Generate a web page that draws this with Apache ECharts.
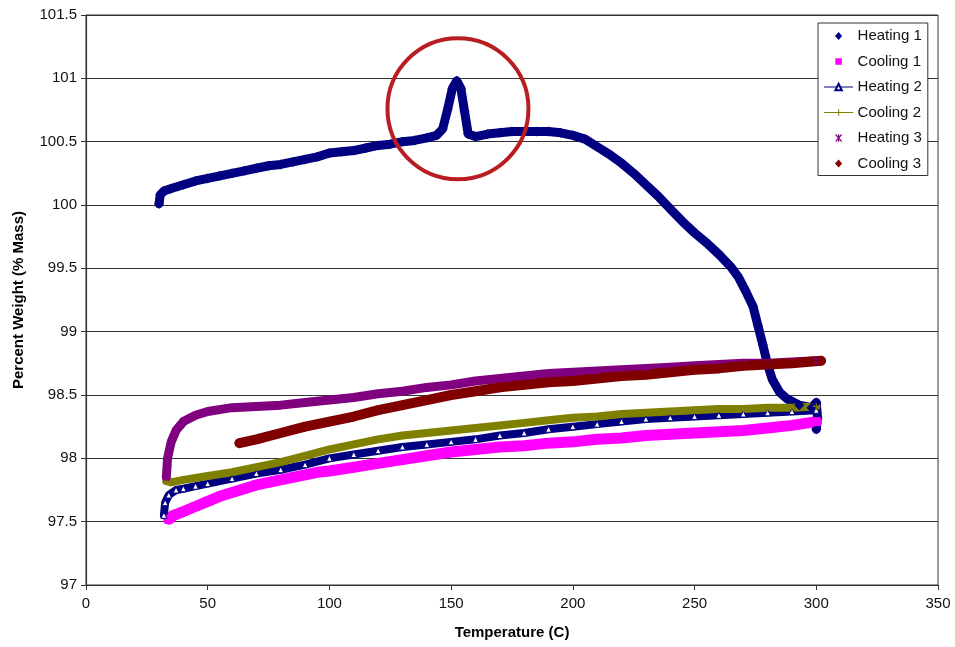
<!DOCTYPE html>
<html>
<head>
<meta charset="utf-8">
<script src="https://cdn.jsdelivr.net/npm/echarts@6/dist/echarts.min.js"></script>
<style>
html,body{margin:0;padding:0;background:#fff;}
#chart{width:955px;height:647px;}
</style>
</head>
<body>
<div id="chart"></div>
<script>
// ---- Data (temperature C, percent weight) ----
const xTicks = [0, 50, 100, 150, 200, 250, 300, 350];
const yTicks = [97, 97.5, 98, 98.5, 99, 99.5, 100, 100.5, 101, 101.5];

const heating1 = [
  [30,100.01],[30.5,100.08],[32,100.11],[35,100.13],[40,100.16],[45,100.19],[50,100.21],
  [55,100.23],[60,100.25],[65,100.27],[70,100.29],[75,100.31],[80,100.32],[85,100.34],
  [90,100.36],[95,100.38],[100,100.41],[105,100.42],[110,100.43],[115,100.45],[120,100.47],
  [125,100.48],[130,100.50],[135,100.51],[140,100.53],[144,100.55],[146.5,100.60],
  [148.5,100.75],[150.5,100.92],[152.3,100.98],[154,100.92],[155.5,100.74],[157,100.56],
  [160,100.54],[165,100.56],[170,100.57],[175,100.58],[180,100.58],[185,100.58],
  [190,100.58],[195,100.57],[200,100.55],[205,100.52],[210,100.46],[215,100.40],
  [220,100.33],[225,100.25],[230,100.16],[235,100.07],[240,99.97],[245,99.87],
  [250,99.78],[255,99.70],[260,99.61],[265,99.51],[268,99.43],[271,99.32],[274,99.20],
  [276,99.05],[278,98.90],[280,98.74],[282,98.62],[285,98.52],[288,98.47],[293,98.42],
  [298,98.40],[300,98.44],[300.5,98.32],[300,98.23]
];

const cooling1 = [
  [34,97.52],[36,97.55],[40,97.58],[45,97.62],[50,97.66],[55,97.70],[60,97.73],[65,97.76],
  [70,97.79],[75,97.81],[80,97.83],[85,97.85],[90,97.87],[95,97.89],[100,97.90],
  [110,97.93],[120,97.96],[130,97.99],[140,98.02],[150,98.05],[160,98.07],[170,98.09],
  [180,98.10],[190,98.12],[200,98.13],[210,98.15],[220,98.16],[230,98.18],[240,98.19],
  [250,98.20],[260,98.21],[270,98.22],[280,98.24],[290,98.26],[300,98.29]
];

const heating2 = [
  [32,97.55],[32.5,97.65],[34,97.71],[37,97.75],[40,97.76],[45,97.78],[50,97.80],
  [60,97.84],[70,97.88],[80,97.91],[90,97.95],[100,98.00],[110,98.03],[120,98.06],
  [130,98.09],[140,98.11],[150,98.13],[160,98.15],[170,98.18],[180,98.20],[190,98.23],
  [200,98.25],[210,98.27],[220,98.29],[230,98.31],[240,98.32],[250,98.33],[260,98.34],
  [270,98.35],[280,98.36],[290,98.37],[300,98.38]
];

const cooling2 = [
  [33,97.82],[35,97.81],[40,97.83],[50,97.86],[60,97.89],[70,97.93],[80,97.97],
  [90,98.02],[100,98.07],[110,98.11],[120,98.15],[130,98.18],[140,98.20],[150,98.22],
  [160,98.24],[170,98.26],[180,98.28],[190,98.30],[200,98.32],[210,98.33],[220,98.35],
  [230,98.36],[240,98.37],[250,98.38],[260,98.39],[270,98.39],[280,98.40],[290,98.40],
  [300,98.41]
];

const heating3 = [
  [33,97.85],[33.5,98.00],[35,98.13],[37,98.22],[40,98.29],[45,98.34],[50,98.37],
  [60,98.40],[70,98.41],[80,98.42],[90,98.44],[100,98.46],[110,98.48],[120,98.51],
  [130,98.53],[140,98.56],[150,98.58],[160,98.61],[170,98.63],[180,98.65],[190,98.67],
  [200,98.68],[210,98.69],[220,98.70],[230,98.71],[240,98.72],[250,98.73],[260,98.74],
  [270,98.75],[280,98.75],[290,98.76],[300,98.77]
];

const cooling3 = [
  [63,98.12],[70,98.15],[80,98.20],[90,98.25],[100,98.29],[110,98.33],[120,98.38],
  [130,98.42],[140,98.46],[150,98.50],[160,98.53],[170,98.56],[180,98.58],[190,98.60],
  [200,98.61],[210,98.63],[220,98.65],[230,98.66],[240,98.68],[250,98.70],[260,98.71],
  [270,98.73],[280,98.74],[290,98.75],[302,98.77]
];

// highlighted peak annotation (centre of the red circle, data coordinates)
const highlight = [[152.8, 100.76]];

const seriesNames = ['Heating 1','Cooling 1','Heating 2','Cooling 2','Heating 3','Cooling 3'];

// ---- Styling ----
const FONT = 'Liberation Sans, Arial, sans-serif';
const asterisk = 'path://M4.2,0h1.6v10h-1.6z M0,1.1L1.1,0L10,8.9L8.9,10z M8.9,0L10,1.1L1.1,10L0,8.9z';
const plus = 'path://M4.2,0h1.6v10h-1.6z M0,4.2h10v1.6h-10z';
// legend icons drawn inside a 28x8 box (corner anchors keep the box size)
const legDiamond = 'path://M0,0L0,0Z M28,8L28,8Z M14,0L17.6,4L14,8L10.4,4Z';
const legSquare = 'path://M0,0L0,0Z M28,8L28,8Z M10.7,0.7H17.3V7.3H10.7Z';
const legAsterisk = 'path://M0,0L0,0Z M28,8L28,8Z M13.4,0.2h1.2v7.6h-1.2z M10.6,0.9L11.4,0.1L17.4,7.1L16.6,7.9z M16.6,0.1L17.4,0.9L11.4,7.9L10.6,7.1z';

function band(name, data, color, width, symbol, symbolSize, itemStyle) {
  return {
    name: name,
    type: 'line',
    data: data,
    smooth: false,
    showSymbol: true,
    showAllSymbol: true,
    symbol: symbol,
    symbolSize: symbolSize,
    lineStyle: { color: color, width: width, cap: 'round', join: 'round' },
    itemStyle: itemStyle || { color: color },
    emphasis: { disabled: true },
    animation: false
  };
}

const chart = echarts.init(document.getElementById('chart'), null, { renderer: 'canvas' });

const option = {
  backgroundColor: '#ffffff',
  animation: false,
  grid: {
    left: 86, right: 17, top: 15, bottom: 62,
    show: true, borderColor: '#333', borderWidth: 1, backgroundColor: '#fff',
    containLabel: false, outerBoundsMode: 'none'
  },
  xAxis: {
    type: 'value',
    min: xTicks[0], max: xTicks[xTicks.length - 1], interval: 50,
    name: 'Temperature (C)', nameLocation: 'middle', nameGap: 40,
    nameTextStyle: { fontFamily: FONT, fontSize: 15, fontWeight: 'bold', color: '#000' },
    axisLine: { show: true, onZero: false, lineStyle: { color: '#333', width: 1.2 } },
    axisTick: { show: true, inside: false, length: 5, lineStyle: { color: '#333' } },
    axisLabel: { fontFamily: FONT, fontSize: 15, color: '#111', margin: 11 },
    splitLine: { show: false }
  },
  yAxis: {
    type: 'value',
    min: yTicks[0], max: yTicks[yTicks.length - 1], interval: 0.5,
    name: 'Percent Weight (% Mass)', nameLocation: 'middle', nameGap: 60, nameRotate: 90,
    nameTextStyle: { fontFamily: FONT, fontSize: 15, fontWeight: 'bold', color: '#000' },
    axisLine: { show: true, onZero: false, lineStyle: { color: '#333', width: 1.2 } },
    axisTick: { show: true, inside: false, length: 5, lineStyle: { color: '#333' } },
    axisLabel: { fontFamily: FONT, fontSize: 15, color: '#111', margin: 9 },
    splitLine: { show: true, lineStyle: { color: '#333', width: 1.2 } }
  },
  legend: {
    orient: 'vertical',
    left: 818, top: 23,
    padding: [5, 6, 4, 6],
    itemWidth: 28, itemHeight: 8, itemGap: 9.5,
    symbolKeepAspect: true,
    backgroundColor: '#fff', borderColor: '#333', borderWidth: 1, borderRadius: 0,
    textStyle: { fontFamily: FONT, fontSize: 15, color: '#111', lineHeight: 16 },
    selectedMode: false,
    data: [
      { name: 'Heating 1', icon: legDiamond, itemStyle: { color: '#000080', borderWidth: 0 } },
      { name: 'Cooling 1', icon: legSquare, itemStyle: { color: '#ff00ff', borderWidth: 0 } },
      { name: 'Heating 2', lineStyle: { width: 1.2, color: '#000080' } },
      { name: 'Cooling 2', lineStyle: { width: 1.2, color: '#808000' } },
      { name: 'Heating 3', icon: legAsterisk, itemStyle: { color: '#800080', borderWidth: 0 } },
      { name: 'Cooling 3', icon: legDiamond, itemStyle: { color: '#800000', borderWidth: 0 } }
    ]
  },
  series: [
    band(seriesNames[0], heating1, '#000080', 9, 'diamond', 10),
    band(seriesNames[1], cooling1, '#ff00ff', 11, 'rect', 9),
    band(seriesNames[2], heating2, '#000080', 8, 'triangle', 6,
         { color: '#ffffff', borderColor: '#000080', borderWidth: 1 }),
    band(seriesNames[3], cooling2, '#808000', 8, plus, 7),
    band(seriesNames[4], heating3, '#800080', 9, asterisk, 7),
    band(seriesNames[5], cooling3, '#800000', 10, 'diamond', 10),
    {
      name: 'highlight',
      type: 'scatter',
      data: highlight,
      symbol: 'circle',
      symbolSize: 141,
      silent: true,
      z: 10,
      itemStyle: { color: 'rgba(0,0,0,0)', borderColor: '#b81d22', borderWidth: 4, opacity: 1 },
      emphasis: { disabled: true },
      animation: false
    }
  ]
};

chart.setOption(option);
</script>
</body>
</html>
